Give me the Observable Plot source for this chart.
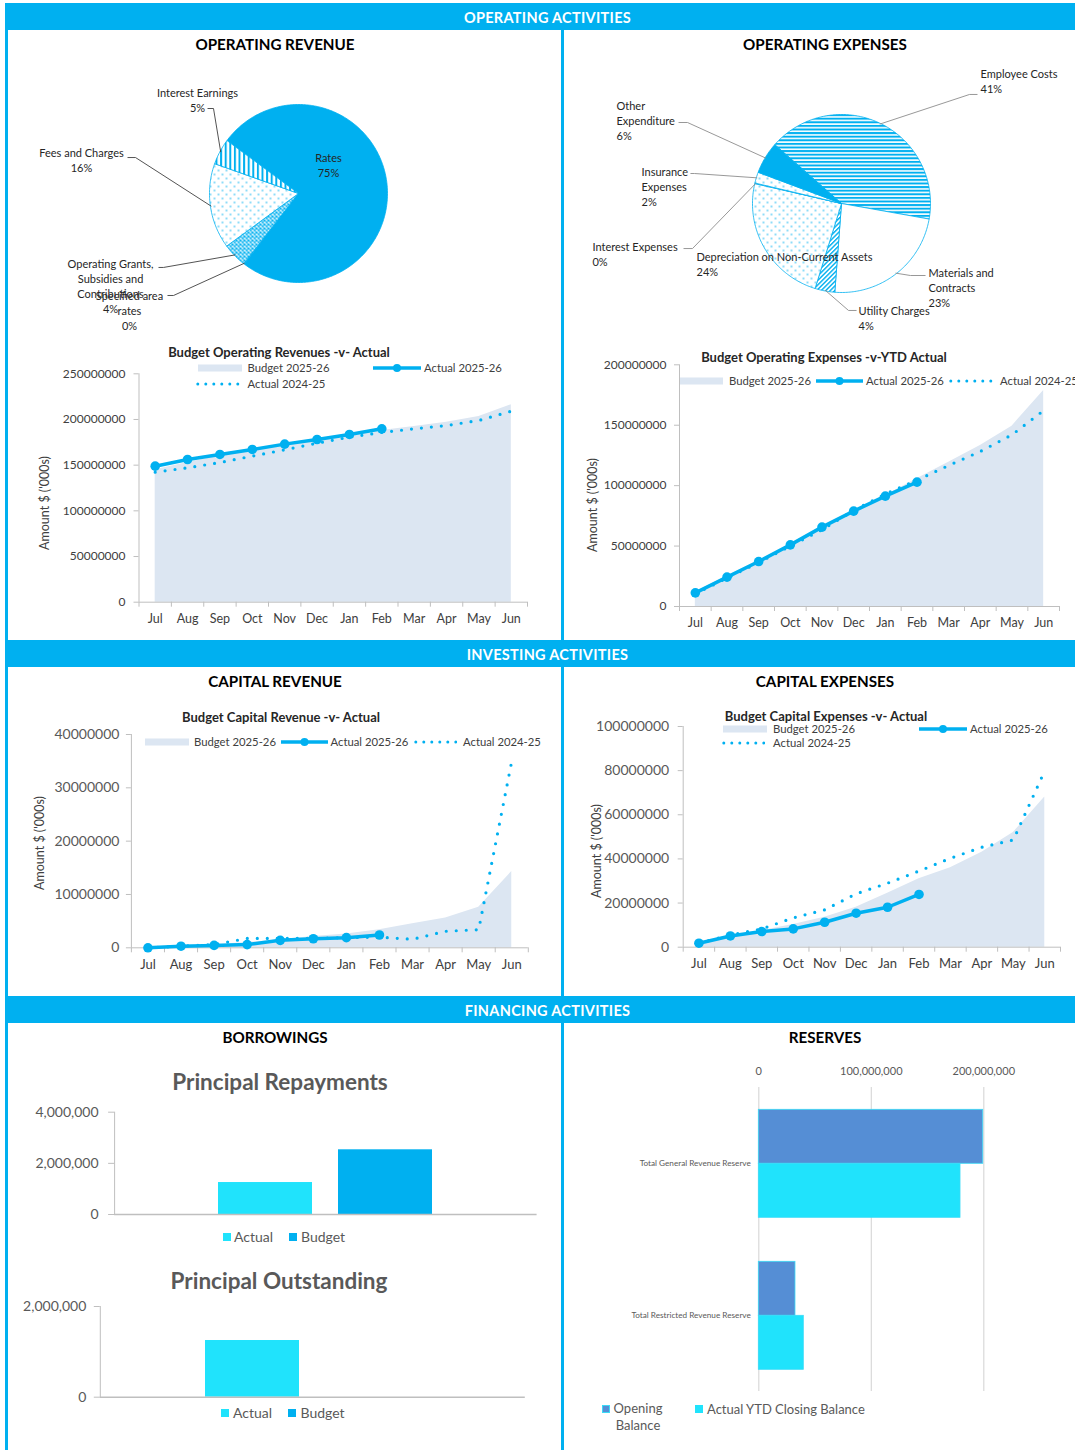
<!DOCTYPE html>
<html>
<head>
<meta charset="utf-8">
<script src="https://cdn.jsdelivr.net/npm/d3@7"></script>
<script src="https://cdn.jsdelivr.net/npm/@observablehq/plot@0.6"></script>
<style>
  body { margin: 0; background: #fff; font-family: Lato, "Open Sans", sans-serif; }
  #page { position: relative; width: 1075px; height: 1450px; overflow: hidden; background: #fff; }
  .band { position: absolute; left: 5px; width: 1085px; height: 27px; background: #00B0F0; color: #fff;
          font-weight: 700; font-size: 14.5px; text-align: center; line-height: 30px; letter-spacing: 0.3px; }
  .vline { position: absolute; width: 3px; background: #00B0F0; }
  .box { position: absolute; }
</style>
</head>
<body>
<svg width="0" height="0" style="position:absolute">
  <defs>
    <pattern id="pVert" width="4.6" height="4.6" patternUnits="userSpaceOnUse">
      <rect width="4.6" height="4.6" fill="#fff"/><rect width="2" height="4.6" fill="#00B0F0"/>
    </pattern>
    <pattern id="pDots" width="8" height="8" patternUnits="userSpaceOnUse">
      <rect width="8" height="8" fill="#fff"/>
      <circle cx="2" cy="2" r="0.8" fill="#00B0F0"/><circle cx="6" cy="6" r="0.8" fill="#00B0F0"/>
    </pattern>
    <pattern id="pCross" width="4" height="4" patternUnits="userSpaceOnUse">
      <rect width="4" height="4" fill="#fff"/>
      <path d="M0,0 L4,4 M4,0 L0,4" stroke="#00B0F0" stroke-width="1.1"/>
    </pattern>
    <pattern id="pHoriz" width="4" height="3.6" patternUnits="userSpaceOnUse">
      <rect width="4" height="3.6" fill="#fff"/><rect width="4" height="2" fill="#00B0F0"/>
    </pattern>
    <pattern id="pDiag" width="3.2" height="3.2" patternUnits="userSpaceOnUse" patternTransform="rotate(45)">
      <rect width="3.2" height="3.2" fill="#fff"/><rect width="1.4" height="3.2" fill="#00B0F0"/>
    </pattern>
  </defs>
</svg>
<div id="page"></div>
<script>
// ---------------- DATA ----------------
const months = ["Jul","Aug","Sep","Oct","Nov","Dec","Jan","Feb","Mar","Apr","May","Jun"];

// Operating revenue composition (% share)
const revNames = ["Rates", "Specified area\nrates", "Operating Grants,\nSubsidies and\nContributions", "Fees and Charges", "Interest Earnings"];
const revShares = [75.3, 0.1, 4.4, 15.5, 4.7];

// Operating expenses composition (% share)
const expNames = ["Employee Costs", "Materials and\nContracts", "Utility Charges", "Depreciation on Non-Current Assets", "Interest Expenses", "Insurance\nExpenses", "Other\nExpenditure"];
const expShares = [41.3, 23.4, 3.6, 23.8, 0.1, 2.0, 5.8];

// Operating revenues (cumulative)
const opRevBudget = [145e6, 153e6, 160e6, 166e6, 171.5e6, 177e6, 182.5e6, 188e6, 192.3e6, 197.1e6, 203.3e6, 216.1e6];
const opRevActual = [148.9e6, 156.2e6, 161.7e6, 167.2e6, 173.0e6, 178.1e6, 183.6e6, 189.8e6];
const opRevPrior  = [142.3e6, 147.1e6, 152.9e6, 159.9e6, 166.8e6, 174.1e6, 180.7e6, 185.8e6, 189.8e6, 193.4e6, 198.9e6, 209.1e6];

// Operating expenses (cumulative)
const opExpBudget = [11.9e6, 25.1e6, 38e6, 51e6, 64.8e6, 78.1e6, 91.9e6, 105.7e6, 119.4e6, 133.2e6, 149.2e6, 178.8e6];
const opExpActual = [11.3e6, 24.3e6, 37.2e6, 51.0e6, 65.7e6, 78.9e6, 91.3e6, 102.9e6];
const opExpPrior  = [10.5e6, 23.5e6, 36.5e6, 50e6, 63.5e6, 79.5e6, 93e6, 104.5e6, 116.7e6, 128.3e6, 142.1e6, 162.2e6];

// Capital revenue (cumulative)
const capRevBudget = [0, 0.25e6, 0.55e6, 1.0e6, 1.5e6, 2.1e6, 2.6e6, 3.4e6, 4.5e6, 5.6e6, 7.6e6, 14.3e6];
const capRevActual = [0, 0.3e6, 0.45e6, 0.6e6, 1.4e6, 1.7e6, 1.9e6, 2.4e6];
const capRevPrior  = [0, 0.3e6, 0.6e6, 1.75e6, 1.75e6, 1.8e6, 1.9e6, 2.0e6, 1.6e6, 3.1e6, 3.4e6, 35e6];

// Capital expenses (cumulative)
const capExpBudget = [1.8e6, 5.1e6, 7.5e6, 10.3e6, 13.6e6, 18.1e6, 24.5e6, 31e6, 36e6, 43e6, 52e6, 68e6];
const capExpActual = [1.8e6, 5.1e6, 7.1e6, 8.3e6, 11.3e6, 15.4e6, 18.1e6, 23.9e6];
const capExpPrior  = [1.8e6, 5.5e6, 8.3e6, 13.3e6, 16.9e6, 24.2e6, 29.0e6, 34.5e6, 40.3e6, 45.3e6, 48.6e6, 80e6];

// Borrowings
const loanSeries = ["Actual", "Budget"];
const repayments = [1.25e6, 2.53e6];
const outstanding = [1.25e6, 0];

// Reserves
const reserveNames = ["Total General Revenue Reserve", "Total Restricted Revenue Reserve"];
const reserveSeries = ["Opening Balance", "Actual YTD Closing Balance"];
const openingBalance = [199.5e6, 32.6e6];
const closingBalance = [179.3e6, 40.0e6];

// ---------------- LAYOUT / STYLE ----------------
const BLUE = "#00B0F0", CYAN = "#20E3FC", ROYAL = "#558ED5", BUDGET = "#DCE6F2", AXIS = "#BFBFBF";
const FONT = "Lato, 'Open Sans', sans-serif";
const page = document.getElementById("page");

function addBox(el, left, top, w, h) {
  const d = document.createElement("div");
  d.className = "box";
  d.style.left = left + "px"; d.style.top = top + "px"; d.style.width = w + "px"; d.style.height = h + "px";
  d.appendChild(el); page.appendChild(d);
}
function text(s, x, y, css, anchor) {
  const d = document.createElement("div");
  d.textContent = s;
  d.style.cssText = `position:absolute;left:${x}px;top:${y}px;white-space:pre;line-height:1.25;font-family:${FONT};` + (css || "");
  d.style.transform = anchor === "start" ? "translate(0,-50%)" : anchor === "rot" ? "translate(-50%,-50%) rotate(-90deg)" : "translate(-50%,-50%)";
  page.appendChild(d);
  return d;
}
function swatch(kind, x, y, w) {
  const d = document.createElement("div");
  d.style.cssText = `position:absolute;left:${x}px;top:${y - 6}px;width:${w}px;height:12px;`;
  let inner;
  if (kind === "area") inner = `<rect x="0" y="2.5" width="${w}" height="7" fill="${BUDGET}"/>`;
  else if (kind === "line") inner = `<line x1="0" y1="6" x2="${w}" y2="6" stroke="${BLUE}" stroke-width="3.5"/><circle cx="${w / 2}" cy="6" r="4" fill="${BLUE}"/>`;
  else inner = `<line x1="1.8" y1="6" x2="${w}" y2="6" stroke="${BLUE}" stroke-width="3" stroke-dasharray="0 8" stroke-linecap="round"/>`;
  d.innerHTML = `<svg width="${w}" height="12" style="display:block">${inner}</svg>`;
  page.appendChild(d);
}
function sq(x, y, fill, stroke) {
  const d = document.createElement("div");
  d.style.cssText = `position:absolute;left:${x}px;top:${y - 4}px;width:8px;height:8px;background:${fill};box-sizing:border-box;` + (stroke ? `border:1px solid ${stroke};` : "");
  page.appendChild(d);
}

// frame: bands and dividers
[[5, 5, 1445], [561, 30, 1420]].forEach(([x, t, h]) => {
  const v = document.createElement("div"); v.className = "vline";
  v.style.left = x + "px"; v.style.top = t + "px"; v.style.height = h + "px";
  page.appendChild(v);
});
[["OPERATING ACTIVITIES", 3], ["INVESTING ACTIVITIES", 640], ["FINANCING ACTIVITIES", 996]].forEach(([s, y]) => {
  const b = document.createElement("div"); b.className = "band"; b.style.top = y + "px"; b.textContent = s; page.appendChild(b);
});

const H1 = "font-weight:700;font-size:15.2px;color:#000;";
text("OPERATING REVENUE", 275, 44, H1); text("OPERATING EXPENSES", 825, 44, H1);
text("CAPITAL REVENUE", 275, 681, H1); text("CAPITAL EXPENSES", 825, 681, H1);
text("BORROWINGS", 275, 1037, H1); text("RESERVES", 825, 1037, H1);

// ---------------- PIES ----------------
function pieChart(cfg) {
  const total = d3.sum(cfg.shares);
  let a = cfg.start;
  const slices = cfg.shares.map((s, k) => {
    const span = s / total * 360; const a0 = a; a += span;
    return {k, a0, a1: a, mid: a0 + span / 2};
  });
  const rad = d => d * Math.PI / 180;
  const polygon = s => {
    const n = Math.max(1, Math.ceil(s.a1 - s.a0));
    const pts = [{x: 0, y: 0}];
    for (let j = 0; j <= n; j++) { const t = rad(s.a0 + (s.a1 - s.a0) * j / n); pts.push({x: Math.sin(t), y: Math.cos(t)}); }
    pts.push({x: 0, y: 0});
    return pts;
  };
  const leaders = [];
  cfg.leaders.forEach((pts, k) => {
    if (!pts) return;
    const t = rad(slices[k].mid);
    pts.map(([x, y]) => ({x, y})).concat([{x: 0.99 * Math.sin(t), y: 0.99 * Math.cos(t)}]).forEach(p => leaders.push({...p, id: k}));
  });
  const labels = cfg.labelPos.map(([x, y], k) => ({x, y, text: cfg.names[k] + "\n" + Math.round(cfg.shares[k]) + "%"}));
  return Plot.plot({
    width: cfg.width, height: cfg.height, margin: 0,
    style: {fontFamily: FONT, background: "transparent", overflow: "visible"},
    x: {domain: [-1, 1], range: [cfg.cx - cfg.r, cfg.cx + cfg.r], axis: null},
    y: {domain: [-1, 1], range: [cfg.cy + cfg.r, cfg.cy - cfg.r], axis: null},
    marks: [
      ...slices.map(s => Plot.line(polygon(s), {x: "x", y: "y", fill: cfg.fills[s.k], stroke: BLUE, strokeWidth: 0.8})),
      Plot.line(leaders, {x: "x", y: "y", z: "id", stroke: cfg.leaderColor, strokeWidth: 0.9, strokeLinecap: "butt"}),
      Plot.text(labels, {x: "x", y: "y", text: "text", textAnchor: cfg.anchor, lineAnchor: "middle", fontSize: 11, lineHeight: 1.37, fill: "#262626"})
    ]
  });
}

addBox(pieChart({
  shares: revShares, names: revNames, start: 306.5,
  fills: [BLUE, "url(#pCross)", "url(#pCross)", "url(#pDots)", "url(#pVert)"],
  width: 553, height: 290, cx: 290, cy: 137, r: 89, anchor: "middle", leaderColor: "#404040",
  labelPos: [[0.337, 0.320], [-1.899, -1.315], [-2.112, -1.039], [-2.438, 0.376], [-1.135, 1.051]],
  leaders: [null, [[-1.472, -1.146], [-1.404, -1.146]], [[-1.573, -0.831], [-1.517, -0.831]], [[-1.921, 0.404], [-1.831, 0.404]], [[-1.022, 0.955], [-0.955, 0.955]]]
}), 8, 56, 553, 290);

addBox(pieChart({
  shares: expShares, names: expNames, start: 311.4,
  fills: ["url(#pHoriz)", "#fff", "url(#pDiag)", "url(#pDots)", "url(#pDots)", "url(#pDots)", BLUE],
  width: 510, height: 290, cx: 276, cy: 147, r: 89, anchor: "start", leaderColor: "#8C8C8C",
  labelPos: [[1.562, 1.376], [0.978, -0.944], [0.191, -1.287], [-1.629, -0.680], [-2.798, -0.567], [-2.247, 0.191], [-2.528, 0.933]],
  leaders: [[[1.528, 1.225], [1.438, 1.225]], [[0.944, -0.809], [0.775, -0.809]], [[0.169, -1.202], [0.079, -1.202]], null,
            [[-1.775, -0.506], [-1.674, -0.506]], [[-1.697, 0.337], [-1.652, 0.337]], [[-1.831, 0.910], [-1.730, 0.910]]]
}), 565, 56, 510, 290);

// ---------------- LINE / AREA CHARTS ----------------
function lineChart(cfg) {
  const rows = arr => arr.map((v, i) => ({i, v}));
  return Plot.plot({
    width: cfg.width, height: cfg.height,
    marginLeft: cfg.ml, marginRight: cfg.mr, marginTop: cfg.mt, marginBottom: cfg.mb,
    style: {fontFamily: FONT, background: "transparent", overflow: "visible"},
    x: {domain: [-0.5, 11.5], axis: null},
    y: {domain: [0, cfg.yMax], axis: null},
    marks: [
      Plot.areaY(rows(cfg.budget), {x: "i", y: "v", fill: BUDGET}),
      Plot.ruleY([0], {stroke: AXIS}),
      Plot.ruleX([-0.5], {stroke: AXIS}),
      Plot.axisY({ticks: d3.range(0, cfg.yMax + 1, cfg.yStep), tickFormat: d3.format("d"), tickSize: 5, tickPadding: cfg.tp,
                  fontSize: cfg.yFont, fill: cfg.yColor, stroke: AXIS, label: null}),
      Plot.axisX({ticks: d3.range(13).map(k => k - 0.5), tickFormat: () => "", tickSize: 5, stroke: AXIS, label: null}),
      Plot.axisX({ticks: d3.range(12), tickFormat: k => months[k], tickSize: 0, tickPadding: 12, fontSize: cfg.mFont, fill: "#404040", label: null}),
      Plot.line(rows(cfg.prior), {x: "i", y: "v", stroke: BLUE, strokeWidth: 3.2, strokeDasharray: "0 10", strokeLinecap: "round"}),
      Plot.line(rows(cfg.actual), {x: "i", y: "v", stroke: BLUE, strokeWidth: 3.5}),
      Plot.dot(rows(cfg.actual), {x: "i", y: "v", r: 4.8, fill: BLUE})
    ]
  });
}

const TITLE = "font-weight:700;font-size:13px;color:#262626;";
const LEG = "font-size:11.3px;color:#404040;";
const YT = "font-size:12.5px;color:#404040;";

// Operating revenue
addBox(lineChart({budget: opRevBudget, actual: opRevActual, prior: opRevPrior, yMax: 250e6, yStep: 50e6,
  width: 530, height: 300, ml: 108.5, mr: 33, mt: 33.3, mb: 38.3, tp: 8.5, yFont: 12, yColor: "#404040", mFont: 12.5}), 30, 340, 530, 300);
text("Budget Operating Revenues -v- Actual", 279, 352, TITLE);
text("Amount $ ('000s)", 45, 503, YT, "rot");
swatch("area", 198, 368, 44); text("Budget 2025-26", 247.5, 368, LEG, "start");
swatch("line", 373, 368, 48); text("Actual 2025-26", 424, 368, LEG, "start");
swatch("dots", 196, 384, 44); text("Actual 2024-25", 247.5, 384, LEG, "start");

// Operating expenses
addBox(lineChart({budget: opExpBudget, actual: opExpActual, prior: opExpPrior, yMax: 200e6, yStep: 50e6,
  width: 495, height: 295, ml: 99, mr: 16, mt: 19.3, mb: 34, tp: 8, yFont: 12, yColor: "#404040", mFont: 12.5}), 580, 345, 495, 295);
text("Budget Operating Expenses -v-YTD Actual", 824, 357, TITLE);
text("Amount $ ('000s)", 593, 505, YT, "rot");
swatch("area", 680, 381, 43); text("Budget 2025-26", 729, 381, LEG, "start");
swatch("line", 816, 381, 47); text("Actual 2025-26", 866, 381, LEG, "start");
swatch("dots", 949, 381, 44); text("Actual 2024-25", 1000, 381, LEG, "start");

// Capital revenue
addBox(lineChart({budget: capRevBudget, actual: capRevActual, prior: capRevPrior, yMax: 40e6, yStep: 10e6,
  width: 530, height: 280, ml: 100.9, mr: 32.2, mt: 34, mb: 32.7, tp: 7, yFont: 14, yColor: "#595959", mFont: 13}), 30, 700, 530, 280);
text("Budget Capital Revenue -v- Actual", 281, 717, TITLE);
text("Amount $ ('000s)", 40, 843, YT, "rot");
swatch("area", 145, 742, 44); text("Budget 2025-26", 194, 742, LEG, "start");
swatch("line", 281, 742, 47); text("Actual 2025-26", 330.5, 742, LEG, "start");
swatch("dots", 414, 742, 43); text("Actual 2024-25", 463, 742, LEG, "start");

// Capital expenses
addBox(lineChart({budget: capExpBudget, actual: capExpActual, prior: capExpPrior, yMax: 100e6, yStep: 20e6,
  width: 495, height: 280, ml: 102.7, mr: 15, mt: 26, mb: 33.3, tp: 9, yFont: 14, yColor: "#595959", mFont: 13}), 580, 700, 495, 280);
text("Budget Capital Expenses -v- Actual", 826, 716, TITLE);
text("Amount $ ('000s)", 597, 851, YT, "rot");
swatch("area", 723, 729, 44); text("Budget 2025-26", 773, 729, LEG, "start");
swatch("line", 919, 729, 48); text("Actual 2025-26", 970, 729, LEG, "start");
swatch("dots", 722, 743, 43); text("Actual 2024-25", 773, 743, LEG, "start");

// ---------------- BORROWINGS ----------------
function loanChart(values, ticks, cfg) {
  const rows = loanSeries.map((s, k) => ({s, v: values[k]}));
  return Plot.plot({
    width: cfg.width, height: cfg.height, marginLeft: cfg.ml, marginRight: cfg.mr, marginTop: cfg.mt, marginBottom: cfg.mb,
    style: {fontFamily: FONT, background: "transparent", overflow: "visible"},
    x: {domain: loanSeries, paddingInner: 0.215, paddingOuter: 0.865, axis: null},
    y: {domain: [0, d3.max(ticks)], axis: null},
    color: {domain: loanSeries, range: [CYAN, BLUE]},
    marks: [
      Plot.frame({anchor: "left", stroke: AXIS}),
      Plot.axisY({ticks, tickFormat: d3.format(","), tickSize: 6, tickPadding: cfg.tp, fontSize: 14, fill: "#595959", stroke: AXIS, label: null}),
      Plot.barY(rows, {x: "s", y: "v", fill: "s"}),
      Plot.ruleY([0], {stroke: AXIS, strokeWidth: 1.5})
    ]
  });
}
const BT = "font-weight:700;font-size:22.5px;color:#595959;";
const BL = "font-size:14px;color:#595959;";
text("Principal Repayments", 280, 1081.7, BT);
addBox(loanChart(repayments, [0, 2e6, 4e6], {width: 560, height: 125, ml: 114.1, mr: 23.4, mt: 11.7, mb: 11, tp: 10}), 0, 1100, 560, 125);
sq(222.5, 1236.7, CYAN); text("Actual", 234, 1236.7, BL, "start");
sq(289, 1236.7, BLUE); text("Budget", 301, 1236.7, BL, "start");

text("Principal Outstanding", 279, 1280.7, BT);
addBox(loanChart(outstanding, [0, 2e6], {width: 560, height: 115, ml: 99.8, mr: 35.2, mt: 11, mb: 13.3, tp: 8}), 0, 1295, 560, 115);
sq(220.7, 1412.7, CYAN); text("Actual", 233, 1412.7, BL, "start");
sq(288, 1412.7, BLUE); text("Budget", 300.5, 1412.7, BL, "start");

// ---------------- RESERVES ----------------
const resRows = reserveNames.flatMap((n, k) => [
  {cat: n, s: reserveSeries[0], v: openingBalance[k]},
  {cat: n, s: reserveSeries[1], v: closingBalance[k]}
]);
addBox(Plot.plot({
  width: 510, height: 340, marginLeft: 193.3, marginRight: 91.7, marginTop: 26.7, marginBottom: 8.3,
  style: {fontFamily: FONT, background: "transparent", overflow: "visible"},
  x: {domain: [0, 200e6], axis: null},
  y: {domain: reserveSeries, paddingInner: 0, paddingOuter: 0.394, axis: null},
  fy: {domain: reserveNames, padding: 0, axis: null},
  color: {domain: reserveSeries, range: [ROYAL, CYAN]},
  marks: [
    Plot.gridX({ticks: [0, 100e6, 200e6], stroke: "#D9D9D9", strokeOpacity: 1, strokeWidth: 1.2}),
    Plot.barX(resRows, {y: "s", fy: "cat", x: "v", fill: "s", stroke: "#3ADBF7", strokeWidth: 0.8}),
    Plot.axisX({anchor: "top", ticks: [0, 100e6, 200e6], tickFormat: d3.format(","), tickSize: 0, tickPadding: 13, fontSize: 11, fill: "#595959", label: null}),
    Plot.axisFy({anchor: "left", tickSize: 0, tickPadding: 8, fontSize: 8.2, fill: "#595959", label: null})
  ]
}), 565, 1060, 510, 340);
sq(602, 1409, ROYAL, "#3ADBF7");
text("Opening\nBalance", 638, 1417, "font-size:13px;color:#595959;line-height:17px;text-align:center;");
sq(695, 1409, CYAN);
text("Actual YTD Closing Balance", 707, 1409, "font-size:13px;color:#595959;", "start");
</script>
</body>
</html>
